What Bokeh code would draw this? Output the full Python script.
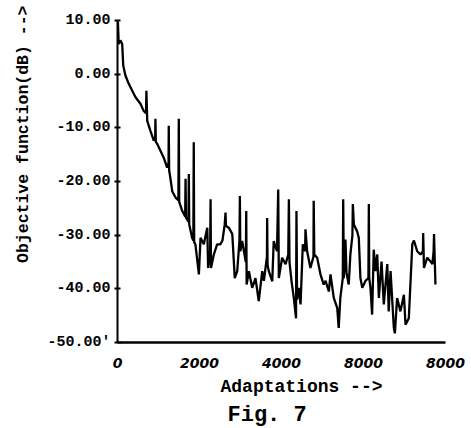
from bokeh.plotting import figure
from bokeh.models import Range1d, FixedTicker, Title, ColumnDataSource
from bokeh.embed import file_html
from bokeh.resources import INLINE

# ---- data (adaptations vs objective function in dB) ----
adaptations = [0, 10, 30, 70, 115, 140, 195, 275, 360, 440,
               560, 635, 695, 705, 725, 805, 885, 920, 925, 935,
               970, 1050, 1130, 1210, 1245, 1250, 1260, 1275, 1335, 1415,
               1485, 1495, 1505, 1580, 1650, 1660, 1670, 1730, 1740, 1750,
               1820, 1850, 1860, 1870, 1900, 1985, 2025, 2105, 2190, 2210,
               2260, 2270, 2280, 2350, 2430, 2510, 2560, 2615, 2635, 2645,
               2715, 2800, 2860, 2920, 2975, 2985, 2995, 3040, 3130, 3140,
               3150, 3205, 3285, 3365, 3445, 3530, 3570, 3645, 3650, 3660,
               3690, 3775, 3810, 3890, 3920, 3935, 4015, 4100, 4165, 4180,
               4195, 4245, 4300, 4355, 4365, 4380, 4420, 4465, 4520, 4575,
               4585, 4625, 4705, 4780, 4785, 4800, 4870, 4950, 5030, 5075,
               5155, 5195, 5275, 5360, 5395, 5435, 5495, 5505, 5520, 5560,
               5585, 5640, 5680, 5730, 5740, 5765, 5845, 5885, 5925, 5970,
               6050, 6120, 6130, 6140, 6170, 6210, 6250, 6295, 6335, 6375,
               6440, 6495, 6580, 6615, 6660, 6740, 6765, 6820, 6900, 6985,
               7025, 7105, 7190, 7230, 7310, 7390, 7450, 7455, 7475, 7555,
               7635, 7680, 7710, 7720, 7755]

objective_db = [7.5, 9.7, 5.6, 6.3, 5.6, 1.6, -0.3, -1.8, -3.1, -4.3,
                -5.5, -6.8, -7.3, -3.1, -8.7, -10.6, -12.4, -11.8, -8.3, -12.6,
                -13.0, -14.3, -15.6, -17.4, -16.5, -9.6, -18.0, -18.6, -21.8, -23.0,
                -23.5, -8.3, -23.8, -25.5, -26.5, -19.5, -26.7, -27.5, -18.6, -28.0,
                -30.5, -31.0, -12.7, -31.3, -31.7, -37.3, -30.5, -31.7, -28.6, -36.1,
                -33.0, -23.3, -36.1, -33.6, -31.7, -31.7, -31.0, -28.0, -25.8, -28.3,
                -28.6, -29.8, -38.0, -36.7, -31.0, -22.7, -33.0, -31.1, -35.0, -25.5,
                -39.2, -36.7, -39.8, -38.0, -42.3, -36.7, -38.5, -34.0, -26.8, -35.5,
                -36.7, -38.6, -31.1, -33.0, -21.5, -38.0, -34.2, -35.4, -33.6, -23.3,
                -35.0, -38.6, -41.7, -45.5, -25.5, -42.0, -39.8, -42.9, -31.7, -33.0,
                -28.9, -33.0, -36.1, -34.0, -23.6, -33.6, -34.2, -37.3, -39.2, -38.5,
                -40.5, -37.3, -41.7, -43.6, -47.3, -41.7, -38.0, -23.3, -38.0, -30.8,
                -37.0, -39.2, -33.6, -30.0, -24.2, -28.0, -29.3, -30.5, -38.0, -39.8,
                -38.5, -38.0, -24.2, -38.0, -39.8, -44.8, -32.7, -36.7, -33.6, -41.7,
                -34.9, -42.9, -35.4, -44.2, -36.7, -47.3, -48.3, -41.7, -44.2, -41.1,
                -46.7, -45.5, -31.7, -31.0, -33.0, -33.6, -33.0, -29.6, -36.1, -34.2,
                -34.9, -35.4, -33.0, -29.8, -39.2]

x_ticks = [0, 2000, 4000, 6000, 8000]
x_tick_labels = ["0", "2000", "4000", "8000", "8000"]
y_ticks = [10, 0, -10, -20, -30, -40, -50]
y_tick_labels = ["10.00", "0.00", "-10.00", "-20.00", "-30.00", "-40.00", "-50.00'"]
x_title = "Adaptations -->"
y_title = "Objective function(dB) -->"
caption = "Fig. 7"

n = min(len(adaptations), len(objective_db))
src = ColumnDataSource(dict(x=adaptations[:n], y=objective_db[:n]))

p = figure(width=466, height=427, output_backend="svg", toolbar_location=None,
           x_range=Range1d(0, 8000), y_range=Range1d(-50, 10),
           min_border_left=117, min_border_right=21,
           min_border_top=20, min_border_bottom=10)
p.outline_line_color = None
p.background_fill_color = "white"
p.border_fill_color = "white"
p.xgrid.grid_line_color = None
p.ygrid.grid_line_color = None

p.line("x", "y", source=src, line_color="black", line_width=2.3)

mono = "Liberation Mono"

# x axis
xa = p.xaxis[0]
xa.ticker = FixedTicker(ticks=x_ticks)
xa.major_label_overrides = {t: l for t, l in zip(x_ticks, x_tick_labels)}
xa.major_tick_in = 0
xa.major_tick_out = 0
xa.minor_tick_line_color = None
xa.axis_line_width = 2.5
xa.axis_line_color = "black"
xa.major_label_standoff = 15
xa.major_label_text_font = "DejaVu Sans"
xa.major_label_text_font_style = "bold italic"
xa.major_label_text_font_size = "14px"
xa.major_label_text_color = "black"

# y axis
ya = p.yaxis[0]
ya.ticker = FixedTicker(ticks=y_ticks)
ya.major_label_overrides = {t: l for t, l in zip(y_ticks, y_tick_labels)}
ya.major_tick_in = 3
ya.major_tick_out = 3
ya.major_tick_line_width = 2
ya.minor_tick_line_color = None
ya.axis_line_width = 2
ya.axis_line_color = "black"
ya.major_label_standoff = 4
ya.major_label_text_font = mono
ya.major_label_text_font_style = "bold"
ya.major_label_text_font_size = "15px"
ya.major_label_text_color = "black"

p.add_layout(Title(text=y_title, align="right", offset=-15, standoff=23,
                   text_font=mono, text_font_style="bold",
                   text_font_size="16.5px", text_color="black"), "left")

p.add_layout(Title(text=x_title, align="left", offset=103, standoff=8,
                   text_font=mono, text_font_style="bold",
                   text_font_size="18px", text_color="black"), "below")

p.add_layout(Title(text=caption, align="left", offset=110, standoff=0,
                   text_font=mono, text_font_style="bold",
                   text_font_size="22px", text_color="black"), "below")

open("out.html", "w").write(file_html(p, INLINE))
